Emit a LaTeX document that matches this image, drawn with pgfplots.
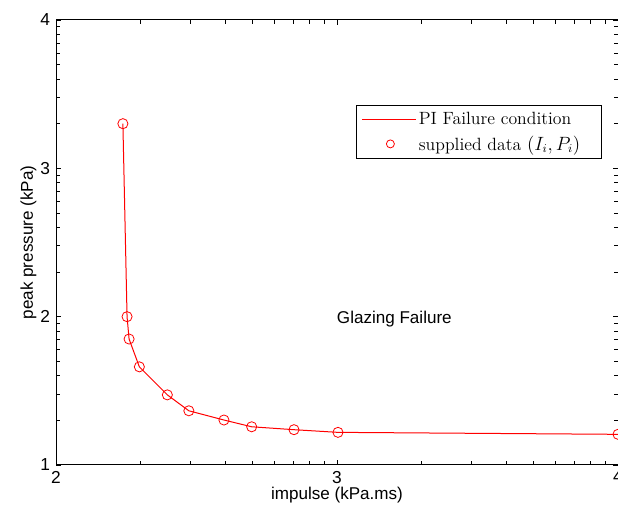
\documentclass[border=0pt]{standalone}
\usepackage{fontspec}
\newfontfamily\arialf{Liberation Sans}
\usepackage{pgfplots}
\pgfplotsset{compat=1.18}
\begin{document}
\begin{tikzpicture}
\begin{axis}[
  scale only axis, width=421.5pt, height=333.75pt,
  xmode=log, ymode=log,
  xmin=100, xmax=10000, ymin=10, ymax=10000,
  xtick={100,1000,10000}, xticklabels={2,3,4},
  ytick={10,100,1000,10000}, yticklabels={1,2,3,4},
  minor xtick={200,300,400,500,600,700,800,900,2000,3000,4000,5000,6000,7000,8000,9000},
  minor ytick={20,30,40,50,60,70,80,90,200,300,400,500,600,700,800,900,2000,3000,4000,5000,6000,7000,8000,9000},
  tick align=inside, major tick length=3.75pt, minor tick length=3pt,
  every tick/.style={black, line width=0.6pt},
  axis line style={black, line width=0.75pt},
  ticklabel style={font=\arialf\fontsize{13}{15}\selectfont},
  xticklabel style={yshift=-1pt},
  yticklabel style={xshift=-1pt},
  xlabel={impulse (kPa.ms)}, ylabel={peak pressure (kPa)},
  label style={font=\arialf\fontsize{12.8}{15}\selectfont},
  xlabel style={yshift=4pt},
  ylabel style={yshift=-4pt},
  legend style={at={(rel axis cs:0.9715,0.809)}, anchor=north east,
    draw=black, line width=0.6pt, font=\fontsize{13.3}{15}\selectfont,
    inner xsep=4pt, inner ysep=3pt, row sep=3pt},
  legend cell align=left,
]
\addplot[red, line width=0.75pt, legend image code/.code={\draw[red, line width=0.75pt] (0pt,0pt) -- (40pt,0pt);}]
  coordinates {(173,2000) (179,100) (182,70.7) (198,45.9) (249,29.7) (297,23.2) (396,20.1) (497,18.1) (703,17.3) (1008,16.6) (10000,16.1)};
\addlegendentry{PI Failure condition\hspace*{10pt}}
\addplot[only marks, mark=o, mark size=3.8pt, red, line width=0.6pt,
  legend image code/.code={\draw[red, line width=0.6pt] (21pt,0pt) circle (3pt);}]
  coordinates {(173,2000) (179,100) (182,70.7) (198,45.9) (249,29.7) (297,23.2) (396,20.1) (497,18.1) (703,17.3) (1008,16.6) (10000,16.1)};
\addlegendentry{supplied data $(I_i,P_i)$\hspace*{10pt}}
\node[font=\arialf\fontsize{12.8}{15}\selectfont] at (axis cs:1600,97) {Glazing Failure};
\end{axis}
\pgfresetboundingbox
\path ([xshift=-42pt,yshift=-34.5pt]current axis.south west) rectangle ([yshift=15pt]current axis.north east);
\end{tikzpicture}
\end{document}
